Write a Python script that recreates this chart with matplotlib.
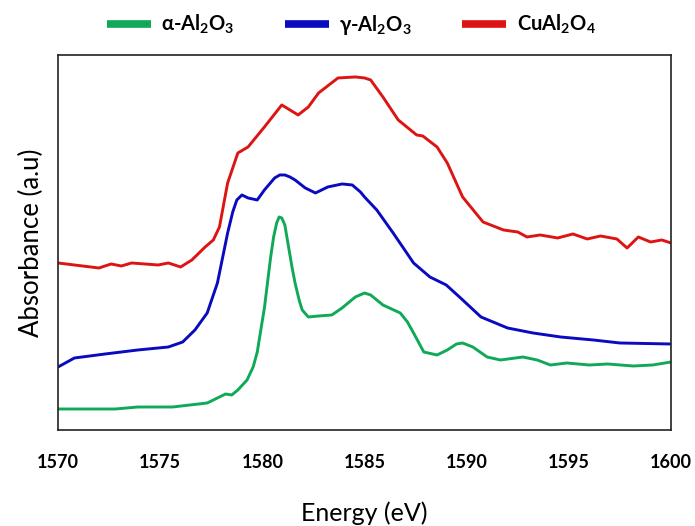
import matplotlib
matplotlib.use("Agg")
import matplotlib.pyplot as plt

# ── data ──────────────────────────────────────────────────────────────────────
alpha_e = [1570.0, 1571.5, 1572.8, 1573.9, 1575.6, 1577.3, 1577.8, 1578.2, 1578.5,
           1578.8, 1579.25, 1579.55, 1579.75, 1579.9, 1580.1, 1580.25, 1580.4,
           1580.55, 1580.7, 1580.82, 1580.95, 1581.1, 1581.25, 1581.45, 1581.6,
           1581.8, 1581.95, 1582.25, 1582.75, 1583.4, 1583.9, 1584.55,
           1585.0, 1585.3, 1585.9, 1586.75, 1587.1, 1587.4, 1587.9, 1588.55, 1589.05,
           1589.5, 1589.8, 1590.3, 1591.0, 1591.65, 1592.75, 1593.45, 1594.1, 1594.9,
           1596.0, 1596.9, 1598.15, 1599.1, 1600.0]
alpha_a = [21, 21, 21, 23, 23, 27, 32, 36, 35,
           40, 50, 63, 78, 97, 122, 147, 172,
           193, 207, 213, 212, 205, 187, 163, 147,
           130, 120, 113, 114, 115, 122, 133,
           137, 135, 125, 117, 108, 97, 78, 75, 80,
           86, 87, 83, 73, 70, 73, 70, 65, 67,
           65, 66, 64, 65, 68]

gamma_e = [1570.0, 1570.8, 1572.3, 1573.9, 1575.4, 1576.1, 1576.7, 1577.3, 1577.8,
           1578.3, 1578.55, 1578.75, 1579.0, 1579.3, 1579.75, 1580.1, 1580.6, 1580.85,
           1581.1, 1581.35, 1581.6, 1582.1, 1582.6, 1583.2, 1583.9, 1584.4, 1584.8,
           1585.0, 1585.6, 1586.4, 1587.4, 1588.2, 1589.0, 1589.7, 1590.7, 1592.0,
           1593.25, 1594.6, 1596.2, 1597.5, 1600.0]
gamma_a = [63, 72, 76, 80, 83, 88, 100, 117, 147,
           197, 218, 230, 235, 232, 230, 240, 252, 255,
           255, 253, 250, 242, 237, 243, 246, 245, 238,
           233, 220, 197, 167, 153, 145, 132, 113, 102,
           97, 93, 90, 87, 86]

cu_e = [1570.0, 1572.0, 1572.6, 1573.1, 1573.6, 1574.9, 1575.4, 1576.0, 1576.55,
        1577.2, 1577.6, 1577.9, 1578.3, 1578.8, 1579.3, 1580.1, 1580.95,
        1581.75, 1582.25, 1582.75, 1583.7, 1584.55, 1585.0, 1585.3, 1585.9,
        1586.65, 1587.55, 1587.85, 1588.55, 1589.05, 1589.8, 1590.8, 1591.8,
        1592.5, 1592.95, 1593.6, 1594.45, 1595.2, 1595.9, 1596.55, 1597.35,
        1597.85, 1598.4, 1599.0, 1599.55, 1600.0]
cu_a = [167, 162, 166, 164, 167, 165, 167, 163, 170,
        183, 190, 203, 247, 277, 283, 303, 325,
        315, 323, 337, 352, 353, 352, 350, 333,
        310, 295, 294, 283, 267, 233, 208, 200,
        198, 193, 195, 192, 196, 191, 194, 191,
        182, 193, 188, 190, 187]

labels = [r"α-Al$_{\mathbf{2}}$O$_{\mathbf{3}}$",
          r"γ-Al$_{\mathbf{2}}$O$_{\mathbf{3}}$",
          r"CuAl$_{\mathbf{2}}$O$_{\mathbf{4}}$"]
colors = ["#0FA958", "#0A0AC0", "#DD1414"]
x_ticks = [1570, 1575, 1580, 1585, 1590, 1595, 1600]

# ── style ─────────────────────────────────────────────────────────────────────
plt.rcParams["font.family"] = ["Lato", "DejaVu Sans"]
plt.rcParams["mathtext.fontset"] = "custom"
plt.rcParams["mathtext.rm"] = "Lato:bold"
plt.rcParams["mathtext.bf"] = "Lato:bold"

# ── plot ──────────────────────────────────────────────────────────────────────
fig = plt.figure(figsize=(6.95, 5.26), dpi=100)
ax = fig.add_axes([0.0835, 0.1825, 0.882, 0.713])

lines = []
for e, a, c in [(alpha_e, alpha_a, colors[0]),
                (gamma_e, gamma_a, colors[1]),
                (cu_e, cu_a, colors[2])]:
    ln, = ax.plot(e, a, color=c, linewidth=2.1, solid_joinstyle="round",
                  solid_capstyle="round")
    lines.append(ln)

ax.set_xlim(1570, 1600)
ax.set_ylim(0, 375)
ax.set_xticks(x_ticks)
ax.set_xticklabels([str(t) for t in x_ticks], fontweight="bold", fontsize=13)
ax.set_yticks([])
ax.tick_params(axis="x", length=0, pad=17)
for s in ax.spines.values():
    s.set_linewidth(1.2)
    s.set_color("#222222")

ax.set_xlabel("Energy (eV)", fontsize=18, labelpad=22)
ax.set_ylabel("Absorbance (a.u)", fontsize=18.5, labelpad=10)

leg = fig.legend(lines, labels, loc="upper center", bbox_to_anchor=(0.505, 1.01),
                 ncol=3, frameon=False, handlelength=2.2, handletextpad=0.5,
                 columnspacing=2.5, prop={"weight": "bold", "size": 14.5})
for h in leg.legend_handles:
    h.set_linewidth(5.5)
    h.set_solid_capstyle("butt")

fig.savefig("out.png", dpi=100)
